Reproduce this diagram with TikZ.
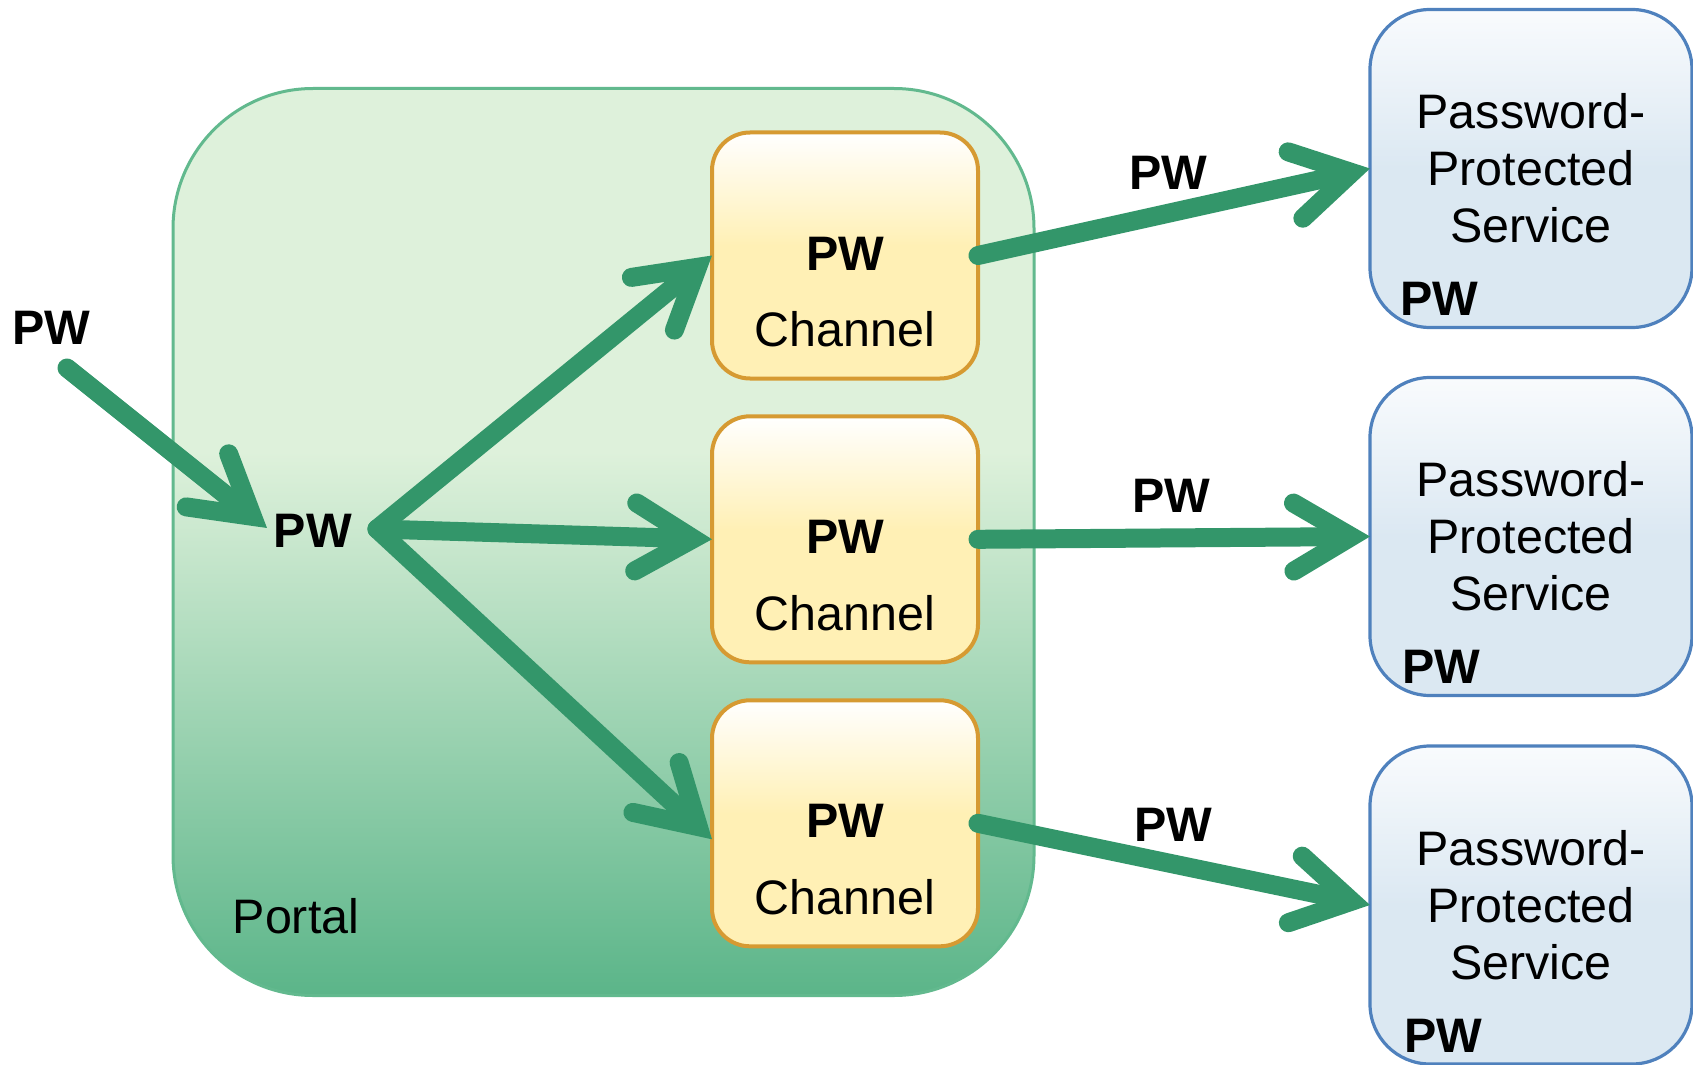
\documentclass[tikz,border=0pt]{standalone}
\usepackage{fontspec}
\setmainfont{Liberation Sans}
\usetikzlibrary{arrows.meta}

\definecolor{flowgreen}{RGB}{51,150,106}
\definecolor{portaltop}{RGB}{222,241,219}
\definecolor{portalbot}{RGB}{91,181,137}
\definecolor{portalline}{RGB}{98,185,142}
\definecolor{chanyellow}{RGB}{255,240,181}
\definecolor{chanline}{RGB}{214,154,50}
\definecolor{svcblue}{RGB}{219,232,242}
\definecolor{svctop}{RGB}{249,251,253}
\definecolor{svcline}{RGB}{79,129,189}

% vertical fills: the path spans 25bp (bottom) to 75bp (top)
\pgfdeclareverticalshading{portalshade}{100bp}{color(0bp)=(portalbot); color(25bp)=(portalbot); color(55bp)=(portaltop); color(100bp)=(portaltop)}
\pgfdeclareverticalshading{chanshade}{100bp}{color(0bp)=(chanyellow); color(52bp)=(chanyellow); color(75bp)=(white); color(100bp)=(white)}
\pgfdeclareverticalshading{svcshade}{100bp}{color(0bp)=(svcblue); color(50bp)=(svcblue); color(75bp)=(svctop); color(100bp)=(svctop)}

% open chevron head: round-capped arms, mitred point on the path end
\pgfdeclarearrow{
  name = Chevron,
  setup code = {
    \pgfarrowssettipend{0pt}
    \pgfarrowssetlineend{-11pt}
    \pgfarrowssetbackend{-43pt}
  },
  drawing code = {
    \pgfsetdash{}{+0pt}
    \pgfsetlinewidth{9.5pt}
    \pgfsetmiterjoin
    \pgfsetroundcap
    \pgfpathmoveto{\pgfqpoint{-38.15pt}{17pt}}
    \pgfpathlineto{\pgfqpoint{-9.35pt}{0pt}}
    \pgfpathlineto{\pgfqpoint{-38.15pt}{-17pt}}
    \pgfusepathqstroke
  }
}

\tikzset{
  txt/.style={font=\fontsize{24.2}{28.5}\selectfont, inner sep=0pt},
  bold/.style={font=\fontsize{24.2}{28.5}\selectfont\bfseries, inner sep=0pt},
  portalbox/.style={draw=portalline, line width=1.5pt, rounded corners=70pt,
    shading=portalshade, outer sep=0pt, inner sep=0pt},
  chanbox/.style={draw=chanline, line width=2pt, rounded corners=19pt,
    shading=chanshade, minimum width=133pt, minimum height=123pt,
    outer sep=0pt, inner sep=0pt},
  svcbox/.style={draw=svcline, line width=1.6pt, rounded corners=30pt,
    shading=svcshade, minimum width=161pt, minimum height=159pt,
    outer sep=0pt, inner sep=0pt, align=center,
    font=\fontsize{24.2}{28.5}\selectfont},
  flow/.style={draw=flowgreen, line width=9.5pt, line cap=round, -{Chevron}},
}

\begin{document}
\begin{tikzpicture}[x=0.5pt, y=-0.5pt]
\useasboundingbox (0,0) rectangle (1693,1065);

% portal container
\node[portalbox, minimum width=430.5pt, minimum height=453.5pt] (portal) at (603.5,542) {};
\node[txt] (portallbl) at (296,916) {Portal};

% password channels
\node[chanbox] (ch1) at (845,255.5) {};
\node[chanbox] (ch2) at (845,539.3) {};
\node[chanbox] (ch3) at (845,823.3) {};
\foreach \c in {ch1,ch2,ch3}{
  \node[bold] (\c pw) at ([yshift=1pt]\c.center) {PW};
  \node[txt] (\c txt) at ([yshift=-37pt]\c.center) {Channel};
}

% protected services
\node[svcbox] (svc1) at (1531,168.5) {Password-\\Protected\\Service};
\node[svcbox] (svc2) at (1531,536.5) {Password-\\Protected\\Service};
\node[svcbox] (svc3) at (1531,905) {Password-\\Protected\\Service};
\node[bold] (svc1pw) at (1439,299) {PW};
\node[bold] (svc2pw) at (1441.5,667) {PW};
\node[bold] (svc3pw) at (1443.5,1035.5) {PW};

% password labels
\node[bold] (pwin) at (51.5,327.5) {PW};
\node[bold] (pwc) at (312.7,530.7) {PW};
\node[bold] (lbl1) at (1168,173) {PW};
\node[bold] (lbl2) at (1171.5,496) {PW};
\node[bold] (lbl3) at (1173.6,825) {PW};

% password flow
\coordinate (fork) at (377,529);
\draw[flow] ([shift={(15.5,40.5)}]pwin.center) -- ([shift={(-45.7,-2.7)}]pwc.center);
\draw[flow] (fork) -- (ch1.west);
\draw[flow] (fork) -- (ch2.west);
\draw[flow] (fork) -- ([yshift=-8pt]ch3.west);
\draw[flow] (ch1.east) -- (svc1.west);
\draw[flow] (ch2.east) -- (svc2.west);
\draw[flow] (ch3.east) -- (svc3.west);
\end{tikzpicture}
\end{document}
